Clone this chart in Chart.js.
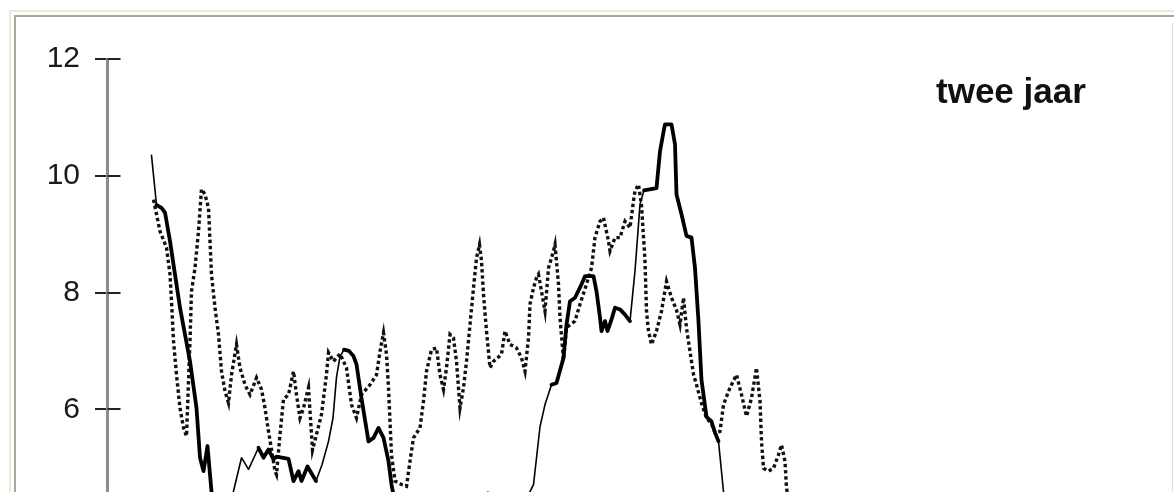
<!DOCTYPE html>
<html>
<head>
<meta charset="utf-8">
<script src="https://cdn.jsdelivr.net/npm/chart.js@4/dist/chart.umd.min.js"></script>
<style>
  html, body { margin: 0; padding: 0; background: #fff; overflow: hidden; }
  #wrap { position: relative; width: 1174px; height: 492px; overflow: hidden; }
  #frameOuter { position: absolute; left: 9px; top: 10px; width: 1300px; height: 600px;
                border-top: 2px solid #eee8da; border-left: 2px solid #eee8da; }
  #frameInner { position: absolute; left: 14px; top: 15px; width: 1300px; height: 600px;
                border-top: 2px solid #aaa69d; border-left: 2px solid #aaa69d; }
  #edge { position: absolute; left: 1172px; top: 23px; width: 1px; height: 600px; background: #dcdcdc; }
  #chart { position: absolute; left: 0; top: 0; }
  #label { position: absolute; left: 936px; top: 73px; font: bold 35px "Liberation Sans", Arial, Helvetica, sans-serif;
           line-height: 35px; color: #111; white-space: nowrap; }
</style>
</head>
<body>
<div id="wrap">
  <div id="frameOuter"></div>
  <div id="frameInner"></div>
  <div id="edge"></div>
  <canvas id="chart" width="1174" height="559"></canvas>
  <div id="label">twee jaar</div>
</div>
<script>
// Solid series: week number and value
const solidWeeks = [
  0.3, 1.3, 2.3, 3.0, 4.0, 6.0, 8.0, 9.3, 10.0, 10.7, 11.5, 12.3, 13.2, 14.8, 16.6,
  18.3, 19.7, 21.7, 22.7, 23.7, 24.7, 25.3, 27.7, 28.7, 29.7, 30.3, 31.5, 33.2, 34.4,
  35.7, 36.6, 37.3, 38.0, 38.8, 39.8, 40.7, 41.3, 42.3, 43.7, 44.7, 45.7, 46.7, 47.7,
  48.3, 49.0, 51.0, 56.0, 61.0, 65.0, 67.6, 70.0, 73.0, 75.0, 76.0, 76.7, 78.0, 79.0,
  80.3, 81.3, 82.7, 83.3, 84.0, 85.0, 86.3, 87.0, 88.7, 89.3, 90.0, 90.3, 91.0, 91.5,
  92.3, 93.0, 94.0, 95.0, 96.0, 97.0, 98.0, 98.8, 101.3, 102.0, 102.7, 103.0, 104.3,
  105.0, 105.3, 106.3, 107.3, 108.3, 109.0, 109.7, 110.3, 111.3, 112.3, 113.0, 113.7,
  114.7, 115.2, 117.0
];
const solidValues = [
  10.35, 9.50, 9.45, 9.37, 8.88, 7.74, 6.82, 6.02, 5.17, 4.94, 5.37, 4.59, 4.20, 4.00, 4.56,
  5.17, 4.97, 5.34, 5.17, 5.31, 5.14, 5.19, 5.15, 4.77, 4.94, 4.77, 5.02, 4.77, 5.05,
  5.45, 5.85, 6.55, 6.90, 7.02, 7.00, 6.91, 6.77, 6.19, 5.45, 5.51, 5.68, 5.51, 5.11,
  4.71, 4.40, 4.00, 3.90, 4.20, 4.35, 4.58, 4.30, 4.20, 4.35, 4.59, 4.71, 5.70, 6.08,
  6.42, 6.45, 6.88, 7.45, 7.85, 7.91, 8.14, 8.28, 8.28, 8.02, 7.57, 7.34, 7.51, 7.34,
  7.54, 7.74, 7.71, 7.62, 7.51, 8.37, 9.51, 9.75, 9.79, 10.42, 10.75, 10.88, 10.88,
  10.54, 9.68, 9.34, 8.97, 8.94, 8.42, 7.50, 6.50, 5.87, 5.79, 5.60, 5.45,
  4.59, 4.20, 3.80
];
// Periods (from week, to week) in which the solid series is drawn heavy
const boldPeriods = [[1.3, 13.2], [21.3, 33.3], [38.6, 49.0], [80.2, 96.0], [98.8, 114.0]];

// Dotted series: week number and value
const dottedWeeks = [
  0.7, 2.0, 3.3, 4.0, 4.3, 4.7, 5.3, 6.0, 6.7, 7.3, 8.0, 8.3, 9.0, 9.7, 10.3, 11.0, 11.7,
  12.0, 12.3, 13.0, 13.7, 14.3, 15.0, 15.7, 16.3, 17.3, 18.0, 19.0, 20.0, 21.3, 22.3,
  23.0, 23.7, 24.3, 25.0, 25.3, 26.0, 26.7, 27.7, 28.7, 29.3, 30.0, 30.7, 31.7, 32.5,
  33.3, 34.3, 35.3, 35.7, 36.7, 38.0, 39.3, 40.3, 41.3, 42.3, 44.0, 45.3, 46.0, 46.7,
  47.3, 47.7, 48.0, 48.3, 49.0, 50.3, 51.3, 52.0, 52.7, 54.0, 54.7, 55.3, 56.3, 57.3,
  58.0, 58.7, 59.3, 60.0, 60.7, 61.3, 62.0, 62.7, 63.3, 64.0, 64.7, 65.3, 65.9, 66.3,
  66.7, 67.3, 68.0, 68.7, 70.3, 71.0, 72.0, 73.3, 74.3, 75.0, 75.7, 76.0, 76.7, 77.3,
  77.7, 78.3, 79.0, 79.7, 80.7, 81.0, 81.7, 82.0, 82.7, 83.3, 85.0, 86.0, 87.3, 88.3,
  89.0, 90.0, 90.7, 91.7, 92.0, 93.0, 94.0, 95.0, 96.0, 96.7, 97.0, 97.7, 98.3, 99.0,
  99.3, 99.7, 100.3, 101.3, 102.3, 103.3, 104.3, 105.3, 106.0, 106.7, 107.3, 108.0,
  108.7, 109.3, 110.3, 111.3, 112.3, 113.0, 114.0, 114.7, 116.0, 117.3, 118.3, 119.3,
  120.3, 121.3, 122.0, 122.3, 122.7, 123.7, 124.7, 125.7, 126.3, 127.0, 127.3, 128.0
];
const dottedValues = [
  9.59, 9.05, 8.77, 8.31, 7.85, 7.17, 6.59, 6.02, 5.68, 5.54, 7.17, 8.02, 8.42, 9.05, 9.77, 9.68, 9.45,
  8.88, 8.31, 7.74, 7.28, 6.65, 6.31, 6.11, 6.59, 7.11, 6.71, 6.42, 6.25, 6.54, 6.34,
  6.02, 5.62, 5.31, 4.94, 4.88, 5.57, 6.17, 6.25, 6.65, 6.25, 5.85, 6.02, 6.37, 5.30,
  5.57, 5.91, 6.60, 6.97, 6.82, 6.95, 6.71, 6.08, 5.85, 6.25, 6.42, 6.59, 6.99, 7.31,
  6.94, 6.37, 5.79, 5.22, 4.77, 4.71, 4.68, 5.11, 5.51, 5.68, 6.14, 6.65, 7.02, 7.05,
  6.59, 6.34, 6.71, 7.28, 7.22, 6.82, 6.02, 6.37, 6.82, 7.45, 8.08, 8.59, 8.82, 8.54,
  7.97, 7.34, 6.71, 6.82, 6.94, 7.34, 7.11, 7.05, 6.88, 6.65, 7.22, 7.80, 8.08, 8.25,
  8.31, 8.02, 7.68, 8.42, 8.71, 8.82, 8.14, 7.57, 6.85, 7.40, 7.51, 7.80, 8.14, 8.42,
  8.94, 9.22, 9.28, 8.88, 8.71, 8.94, 8.94, 9.22, 9.11, 9.57, 9.74, 9.85, 9.50, 8.54,
  7.68, 7.34, 7.11, 7.34, 7.68, 8.19, 7.91, 7.70, 7.45, 7.91, 7.39, 6.99,
  6.60, 6.42, 6.10, 5.85, 5.75, 5.60, 5.62, 6.08, 6.37, 6.59, 6.25, 5.88,
  6.19, 6.71, 6.14, 5.45, 4.99, 4.94, 4.99, 5.22, 5.39, 5.11, 4.65, 4.30
];

// Y axis tick values
const yTicks = [4, 6, 8, 10, 12];

const toPoints = (xs, ys) => xs.map((x, i) => ({ x: x, y: ys[i] }));
const isBold = (a, b) => {
  const m = (a + b) / 2;
  return boldPeriods.some(([from, to]) => m >= from && m <= to);
};

const FONT = '"Liberation Sans", Arial, Helvetica, sans-serif';

// Inner half of each y tick mark, drawn to the right of the axis line
const innerTicks = {
  id: 'innerTicks',
  afterDraw(chart) {
    const s = chart.scales.y;
    const left = chart.chartArea.left;
    const c = chart.ctx;
    c.save();
    c.strokeStyle = '#222';
    c.lineWidth = 2;
    s.ticks.forEach(t => {
      const y = Math.round(s.getPixelForValue(t.value));
      c.beginPath();
      c.moveTo(left, y);
      c.lineTo(left + 13, y);
      c.stroke();
    });
    c.restore();
  }
};

new Chart(document.getElementById('chart'), {
  type: 'line',
  data: {
    datasets: [
      {
        label: 'solid',
        data: toPoints(solidWeeks, solidValues),
        borderColor: '#000',
        borderWidth: 1.6,
        pointRadius: 0,
        tension: 0,
        borderJoinStyle: 'round',
        borderCapStyle: 'round',
        order: 0,
        segment: {
          borderWidth: ctx => isBold(ctx.p0.parsed.x, ctx.p1.parsed.x) ? 3.8 : 1.6
        }
      },
      {
        label: 'dotted',
        data: toPoints(dottedWeeks, dottedValues),
        borderColor: '#111',
        borderWidth: 3.4,
        borderDash: [3.4, 2.8],
        pointRadius: 0,
        tension: 0,
        order: 1
      }
    ]
  },
  options: {
    responsive: false,
    animation: false,
    devicePixelRatio: 1,
    layout: { padding: { left: 47.5, right: 9, top: 59, bottom: 15.4 } },
    plugins: { legend: { display: false }, tooltip: { enabled: false }, title: { display: false } },
    scales: {
      x: { type: 'linear', min: -8.5, max: 203, display: false },
      y: {
        min: 4,
        max: 12,
        afterFit: s => { s.width = 60; },
        afterBuildTicks: s => { s.ticks = yTicks.map(v => ({ value: v })); },
        ticks: {
          font: { family: FONT, size: 30 },
          color: '#1a1a1a',
          padding: 15
        },
        grid: {
          drawOnChartArea: false,
          drawTicks: true,
          tickLength: 12.5,
          color: '#222',
          lineWidth: 2
        },
        border: { display: true, color: '#8c8c8c', width: 3 }
      }
    }
  },
  plugins: [innerTicks]
});
</script>
</body>
</html>
